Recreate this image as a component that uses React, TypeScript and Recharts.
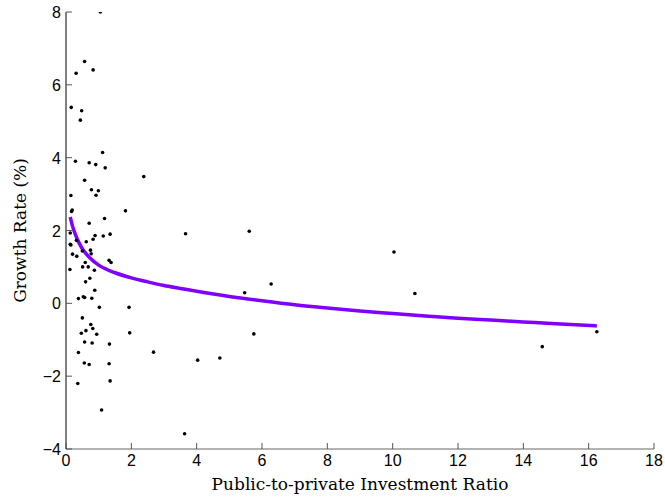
import React from 'react';
import {
  ComposedChart,
  Scatter,
  Line,
  XAxis,
  YAxis,
} from 'recharts';

// observed countries: public-to-private investment ratio vs growth (%)
const ratio = [
  1.05, 0.57, 0.31, 0.83, 0.16, 0.48, 0.44, 1.12, 0.29, 0.71,
  0.91, 1.2, 2.38, 0.57, 0.15, 0.78, 0.99, 0.92, 0.17, 0.19,
  1.82, 1.18, 0.71, 0.13, 1.14, 1.35, 0.89, 0.83, 0.62, 0.32,
  0.13, 0.15, 0.75, 0.5, 0.77, 0.2, 0.33, 1.32, 1.38, 0.59,
  0.12, 0.51, 0.68, 0.87, 0.73, 0.6, 0.88, 0.38, 0.53, 0.57,
  0.79, 1.02, 1.93, 0.5, 0.76, 0.82, 0.61, 0.47, 0.94, 1.95,
  0.57, 0.8, 1.33, 2.68, 0.38, 0.56, 0.71, 1.32, 1.35, 0.36,
  1.09, 3.66, 5.61, 6.28, 5.47, 5.75, 10.04, 10.68, 16.25, 14.58,
  4.03, 4.71, 3.63,
];
const growth = [
  8.0, 6.64, 6.32, 6.41, 5.38, 5.29, 5.03, 4.14, 3.9, 3.86,
  3.81, 3.72, 3.48, 3.38, 2.96, 3.12, 3.09, 2.97, 2.52, 2.56,
  2.54, 2.33, 2.2, 1.93, 1.85, 1.9, 1.86, 1.76, 1.69, 1.73,
  1.62, 1.6, 1.46, 1.44, 1.36, 1.35, 1.29, 1.18, 1.12, 1.12,
  0.93, 1.0, 1.0, 0.91, 0.69, 0.59, 0.36, 0.13, 0.18, 0.16,
  0.14, -0.11, -0.11, -0.4, -0.58, -0.69, -0.75, -0.82, -0.85, -0.81,
  -1.06, -1.09, -1.12, -1.34, -1.35, -1.64, -1.68, -1.66, -2.13, -2.2,
  -2.93, 1.91, 1.98, 0.53, 0.29, -0.84, 1.41, 0.27, -0.78, -1.19,
  -1.56, -1.5, -3.58,
];

// fitted curve
const fitRatio = [
  0.13, 0.2, 0.3, 0.4, 0.5, 0.6, 0.75, 1, 1.25, 1.5, 2, 2.5, 3, 3.5, 4,
  5, 6, 7, 8, 9, 10, 11, 12, 13, 14, 15, 16.25,
];
const fitGrowth = [
  2.37, 2.12, 1.86, 1.66, 1.5, 1.38, 1.23, 1.05, 0.93, 0.84, 0.7, 0.59, 0.49, 0.41, 0.33,
  0.19, 0.07, -0.04, -0.13, -0.21, -0.28, -0.35, -0.41, -0.46, -0.51, -0.56, -0.62,
];

const xTicks = [0, 2, 4, 6, 8, 10, 12, 14, 16, 18];
const yTicks = [-4, -2, 0, 2, 4, 6, 8];

const points = ratio.map((x, i) => ({ x, y: growth[i] }));
const fit = fitRatio.map((x, i) => ({ x, y: fitGrowth[i] }));

const TICK_FONT = '"Liberation Sans", Arial, sans-serif';
const LABEL_FONT = '"DejaVu Serif", serif';
const X_MARGIN = 5;
const Y_MARGIN = 5;
const TICK_LEN = 6;

const XTick = (props: any) => {
  const { x, y, payload } = props;
  const axisY = y - X_MARGIN;
  return (
    <g>
      <line x1={x} y1={axisY} x2={x} y2={axisY - TICK_LEN} stroke="#555" strokeWidth={1} />
      <text x={x} y={y + 12} textAnchor="middle" fontFamily={TICK_FONT} fontSize={16} fill="#000">
        {payload.value}
      </text>
    </g>
  );
};

const YTick = (props: any) => {
  const { x, y, payload } = props;
  const axisX = x + Y_MARGIN;
  const v = payload.value < 0 ? '\u2212' + Math.abs(payload.value) : String(payload.value);
  return (
    <g>
      <line x1={axisX} y1={y} x2={axisX + TICK_LEN} y2={y} stroke="#555" strokeWidth={1} />
      <text x={x} y={y + 6} textAnchor="end" fontFamily={TICK_FONT} fontSize={16} fill="#000">
        {v}
      </text>
    </g>
  );
};

const YLabel = (props: any) => {
  const { viewBox } = props;
  const cx = 21;
  const cy = viewBox.y + viewBox.height / 2;
  return (
    <text
      x={cx}
      y={cy}
      transform={`rotate(-90 ${cx} ${cy})`}
      textAnchor="middle"
      dominantBaseline="middle"
      fontFamily={LABEL_FONT}
      fontSize={17}
      fill="#000"
    >
      Growth Rate (%)
    </text>
  );
};

const XLabel = (props: any) => {
  const { viewBox } = props;
  const cx = viewBox.x + viewBox.width / 2;
  return (
    <text x={cx} y={490} textAnchor="middle" fontFamily={LABEL_FONT} fontSize={17} fill="#000">
      Public-to-private Investment Ratio
    </text>
  );
};

const Dot = (props: any) => <circle cx={props.cx} cy={props.cy} r={1.8} fill="#000" />;

export default function App() {
  return (
    <div style={{ position: 'absolute', left: 0, top: 0, background: '#fff' }}>
      <ComposedChart width={665} height={500} margin={{ top: 12, right: 11, bottom: 0, left: 0 }}>
        <XAxis
          type="number"
          dataKey="x"
          domain={[0, 18]}
          ticks={xTicks}
          allowDataOverflow
          height={51}
          stroke="#666"
          tickLine={false}
          tickSize={0}
          tickMargin={X_MARGIN}
          tick={<XTick />}
          label={<XLabel />}
        />
        <YAxis
          type="number"
          dataKey="y"
          domain={[-4, 8]}
          ticks={yTicks}
          allowDataOverflow
          width={66}
          stroke="#000"
          tickLine={false}
          tickSize={0}
          tickMargin={Y_MARGIN}
          tick={<YTick />}
          label={<YLabel />}
        />
        <Line
          data={fit}
          dataKey="y"
          type="monotone"
          stroke="#8000ff"
          strokeWidth={3.5}
          dot={false}
          activeDot={false}
          isAnimationActive={false}
        />
        <Scatter data={points} dataKey="y" shape={<Dot />} isAnimationActive={false} />
      </ComposedChart>
    </div>
  );
}
